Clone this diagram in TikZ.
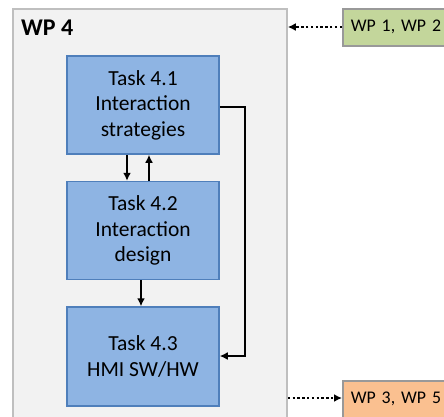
\documentclass[tikz,border=0pt]{standalone}
\usepackage{fontspec}
\setmainfont{Carlito}
\usetikzlibrary{arrows.meta}
\definecolor{wpfill}{HTML}{F2F2F2}
\definecolor{wpdraw}{HTML}{BFBFBF}
\definecolor{taskfill}{HTML}{8EB4E3}
\definecolor{taskdraw}{HTML}{4F7FBB}
\definecolor{greenfill}{HTML}{C3D69B}
\definecolor{orangefill}{HTML}{FAC090}
\definecolor{extdraw}{HTML}{999999}
\tikzset{
  taskbox/.style={draw=taskdraw, line width=1.5pt, fill=taskfill, minimum width=152pt, minimum height=98pt, align=center, font=\fontsize{21.5}{25.5}\selectfont, inner sep=0pt},
  extbox/.style={draw=extdraw, line width=1.5pt, minimum width=120pt, minimum height=37pt, anchor=north west, font=\fontsize{17.8}{21}\selectfont, inner sep=0pt, text width=110pt, align=left},
  flow/.style={line width=2.4pt, -{Latex[length=8pt,width=8pt]}},
  dotflow/.style={line width=2.4pt, dash pattern=on 2.4pt off 2.4pt, -{Latex[length=8pt,width=8pt]}}
}
\begin{document}
\begin{tikzpicture}[x=1pt,y=-1pt]
\useasboundingbox (0,0) rectangle (444,416);
\begin{scope}
\clip (0,0) rectangle (444,416);
\node[draw=wpdraw, line width=1.8pt, fill=wpfill, anchor=north west, minimum width=274pt, minimum height=430pt, inner sep=0pt] (wp4) at (12,8) {};
\node[anchor=west, inner sep=0pt, font=\fontsize{24}{28}\selectfont\bfseries] (wp4lab) at (21,28) {WP 4};
\node[taskbox] (t1) at (143,105) {Task 4.1\\Interaction\\strategies};
\node[taskbox] (t2) at (143,230.5) {Task 4.2\\Interaction\\design};
\node[taskbox, minimum height=99pt] (t3) at (143,356.5) {Task 4.3\\HMI SW/HW};
\node[extbox, fill=greenfill] (wp12) at (342,8) {\hspace{3pt}WP 1, WP 2};
\node[extbox, fill=orangefill] (wp35) at (342,380) {\hspace{3pt}WP 3, WP 5};
\end{scope}
\draw[flow] (t1.south -| 127,0) -- (t2.north -| 127,0);
\draw[flow] (t2.north -| 149,0) -- (t1.south -| 149,0);
\draw[flow] (t2.south -| 141,0) -- (t3.north -| 141,0);
\coordinate (c1) at (245,107);
\coordinate (c2) at (245,356);
\draw[flow] (t1.east |- c1) -- (c1) -- (c2) -- (t3.east |- c2);
\draw[dotflow] (wp12.west |- 0,27) -- (wp4.east |- 0,27);
\draw[dotflow] (wp4.east |- 0,398) -- (wp35.west |- 0,398);
\end{tikzpicture}
\end{document}
